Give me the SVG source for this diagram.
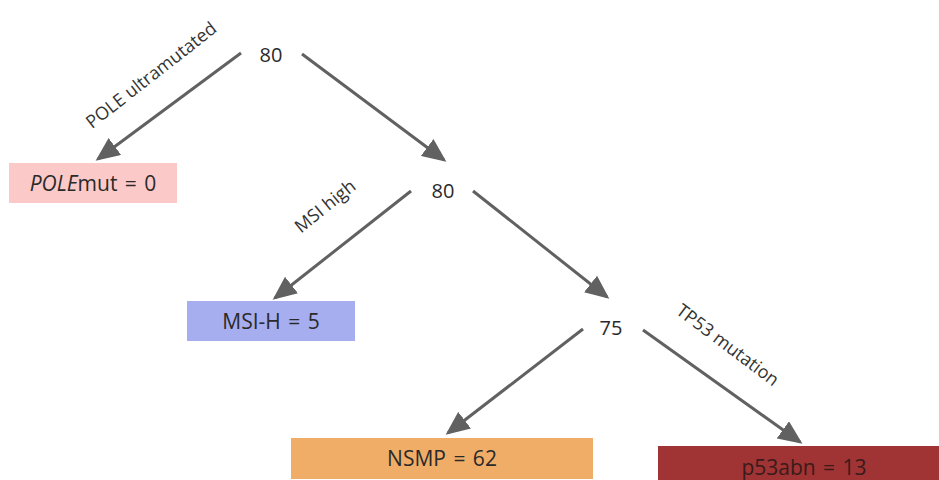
<svg xmlns="http://www.w3.org/2000/svg" width="939" height="480" viewBox="0 0 939 480">
<defs>
<marker id="ah" markerWidth="8" markerHeight="7" refX="7" refY="3.5" orient="auto" markerUnits="strokeWidth">
<path d="M0,0 L8,3.5 L0,7 Z" fill="#616161"/>
</marker>
<style>
.t{font-family:"Open Sans","Noto Sans",sans-serif;fill:#2a2a2a;text-anchor:middle}
.n{font-size:20px}
.b{font-size:21px;word-spacing:2px}
.l{font-size:18px;fill:#333}
.c{stroke:#616161;stroke-width:3;fill:none;marker-end:url(#ah)}
</style>
</defs>
<rect width="939" height="480" fill="#ffffff"/>
<g id="connectors">
<line class="c" x1="241" y1="53" x2="98" y2="159"/>
<line class="c" x1="302" y1="54" x2="444" y2="160"/>
<line class="c" x1="411" y1="191" x2="275" y2="298"/>
<line class="c" x1="473" y1="191" x2="607" y2="297"/>
<line class="c" x1="583" y1="329" x2="448" y2="433"/>
<line class="c" x1="643" y1="330" x2="800" y2="442"/>
<text class="t l" transform="translate(155,80) rotate(-38)">POLE ultramutated</text>
<text class="t l" transform="translate(329,211) rotate(-39)">MSI high</text>
<text class="t l" transform="translate(724,350) rotate(37)">TP53 mutation</text>
</g>
<g id="n80a"><text class="t n" x="271" y="62">80</text></g>
<g id="n80b"><text class="t n" x="443" y="198">80</text></g>
<g id="n75"><text class="t n" x="611" y="335">75</text></g>
<g id="pole">
<rect x="9" y="163" width="168" height="40" fill="#fcc9c9"/>
<text class="t b" x="93" y="191"><tspan font-style="italic">POLE</tspan>mut = 0</text>
</g>
<g id="msih">
<rect x="187" y="301" width="168" height="40" fill="#a7aef0"/>
<text class="t b" x="271" y="329">MSI-H = 5</text>
</g>
<g id="nsmp">
<rect x="291" y="438" width="302" height="41" fill="#f0ad68"/>
<text class="t b" x="442" y="466">NSMP = 62</text>
</g>
<g id="p53">
<rect x="658" y="446" width="281" height="34" fill="#a03434"/>
<text class="t b" x="804" y="475" style="fill:#3a1a1a">p53abn = 13</text>
</g>
</svg>
